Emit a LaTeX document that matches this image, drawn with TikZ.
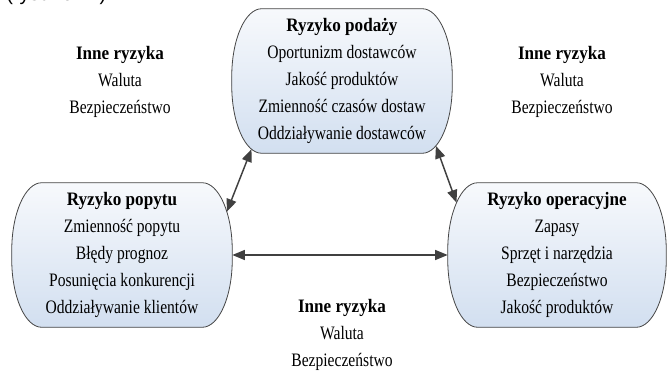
\documentclass[tikz,border=0pt]{standalone}
\usepackage{fontspec}
\setmainfont{Liberation Serif}[FakeStretch=0.82]
\newfontfamily\titlefont{Liberation Serif}[FakeStretch=0.9]
\newfontfamily\capfont{Liberation Sans}
\usetikzlibrary{arrows.meta,calc}
\pgfdeclarelayer{bg}
\pgfsetlayers{bg,main}
\definecolor{edgec}{RGB}{70,70,70}
\definecolor{fillTop}{RGB}{247,249,252}
\definecolor{fillBot}{RGB}{210,223,240}
\definecolor{arrowc}{RGB}{64,64,64}
\tikzset{
  riskbox/.style={minimum width=165pt, minimum height=108pt, inner sep=0pt,
    align=center, font=\fontsize{14.25pt}{20.25pt}\selectfont},
  txt/.style={align=center, inner sep=0pt, font=\fontsize{14.25pt}{20.25pt}\selectfont},
  link/.style={draw=arrowc, line width=1.1pt,
    {Triangle[length=9.5pt,width=7.5pt]}-{Triangle[length=9.5pt,width=7.5pt]}},
  boxline/.style={draw=edgec, line width=0.6pt, top color=fillTop, bottom color=fillBot}
}
\newcommand\riskoutline[1]{%
  \path[boxline] ($(#1.north west)+(30,0)$) -- ($(#1.north east)+(-30,0)$)
    arc[start angle=90,end angle=0,x radius=30,y radius=68]
    -- ($(#1.south east)+(0,68)$)
    arc[start angle=0,end angle=-90,x radius=30,y radius=68]
    -- ($(#1.south west)+(30,0)$)
    arc[start angle=270,end angle=180,x radius=30,y radius=68]
    -- ($(#1.north west)+(0,-68)$)
    arc[start angle=180,end angle=90,x radius=30,y radius=68] -- cycle;}
\newcommand\ttl[1]{{\titlefont\bfseries #1}}
\begin{document}
\begin{tikzpicture}[x=0.75pt,y=0.75pt]
  \useasboundingbox (0,0) rectangle (667,372);
  \begin{pgfonlayer}{bg}
    \fill[white] (0,0) rectangle (667,372);
  \end{pgfonlayer}

  \node[font=\capfont\fontsize{15pt}{18pt}\selectfont, anchor=base west, inner sep=0pt] (cap) at (6,371) {(rysunek 2).};

  \node[riskbox] (top) at (342,291) {\ttl{Ryzyko podaży}\\Oportunizm dostawców\\Jakość produktów\\Zmienność czasów dostaw\\Oddziaływanie dostawców};
  \node[riskbox] (left) at (122,117) {\ttl{Ryzyko popytu}\\Zmienność popytu\\Błędy prognoz\\Posunięcia konkurencji\\Oddziaływanie klientów};
  \node[riskbox, minimum width=163.5pt] (right) at (557,117) {\ttl{Ryzyko operacyjne}\\Zapasy\\Sprzęt i narzędzia\\Bezpieczeństwo\\Jakość produktów};

  \begin{pgfonlayer}{bg}
    \riskoutline{top}
    \riskoutline{left}
    \riskoutline{right}
  \end{pgfonlayer}

  \node[txt] (o1) at (120,290) {\ttl{Inne ryzyka}\\Waluta\\Bezpieczeństwo};
  \node[txt] (o2) at (562,290) {\ttl{Inne ryzyka}\\Waluta\\Bezpieczeństwo};
  \node[txt] (o3) at (342,37) {\ttl{Inne ryzyka}\\Waluta\\Bezpieczeństwo};

  \draw[link] ($(top.south west)+(30,68)+(250:30 and 68)$) -- ($(left.north east)+(-30,-68)+(35:30 and 68)$);
  \draw[link] ($(top.south east)+(-30,68)+(297:30 and 68)$) -- ($(right.north west)+(30,-68)+(135:30 and 68)$);
  \draw[link] (left.east) -- (right.west);
\end{tikzpicture}
\end{document}
